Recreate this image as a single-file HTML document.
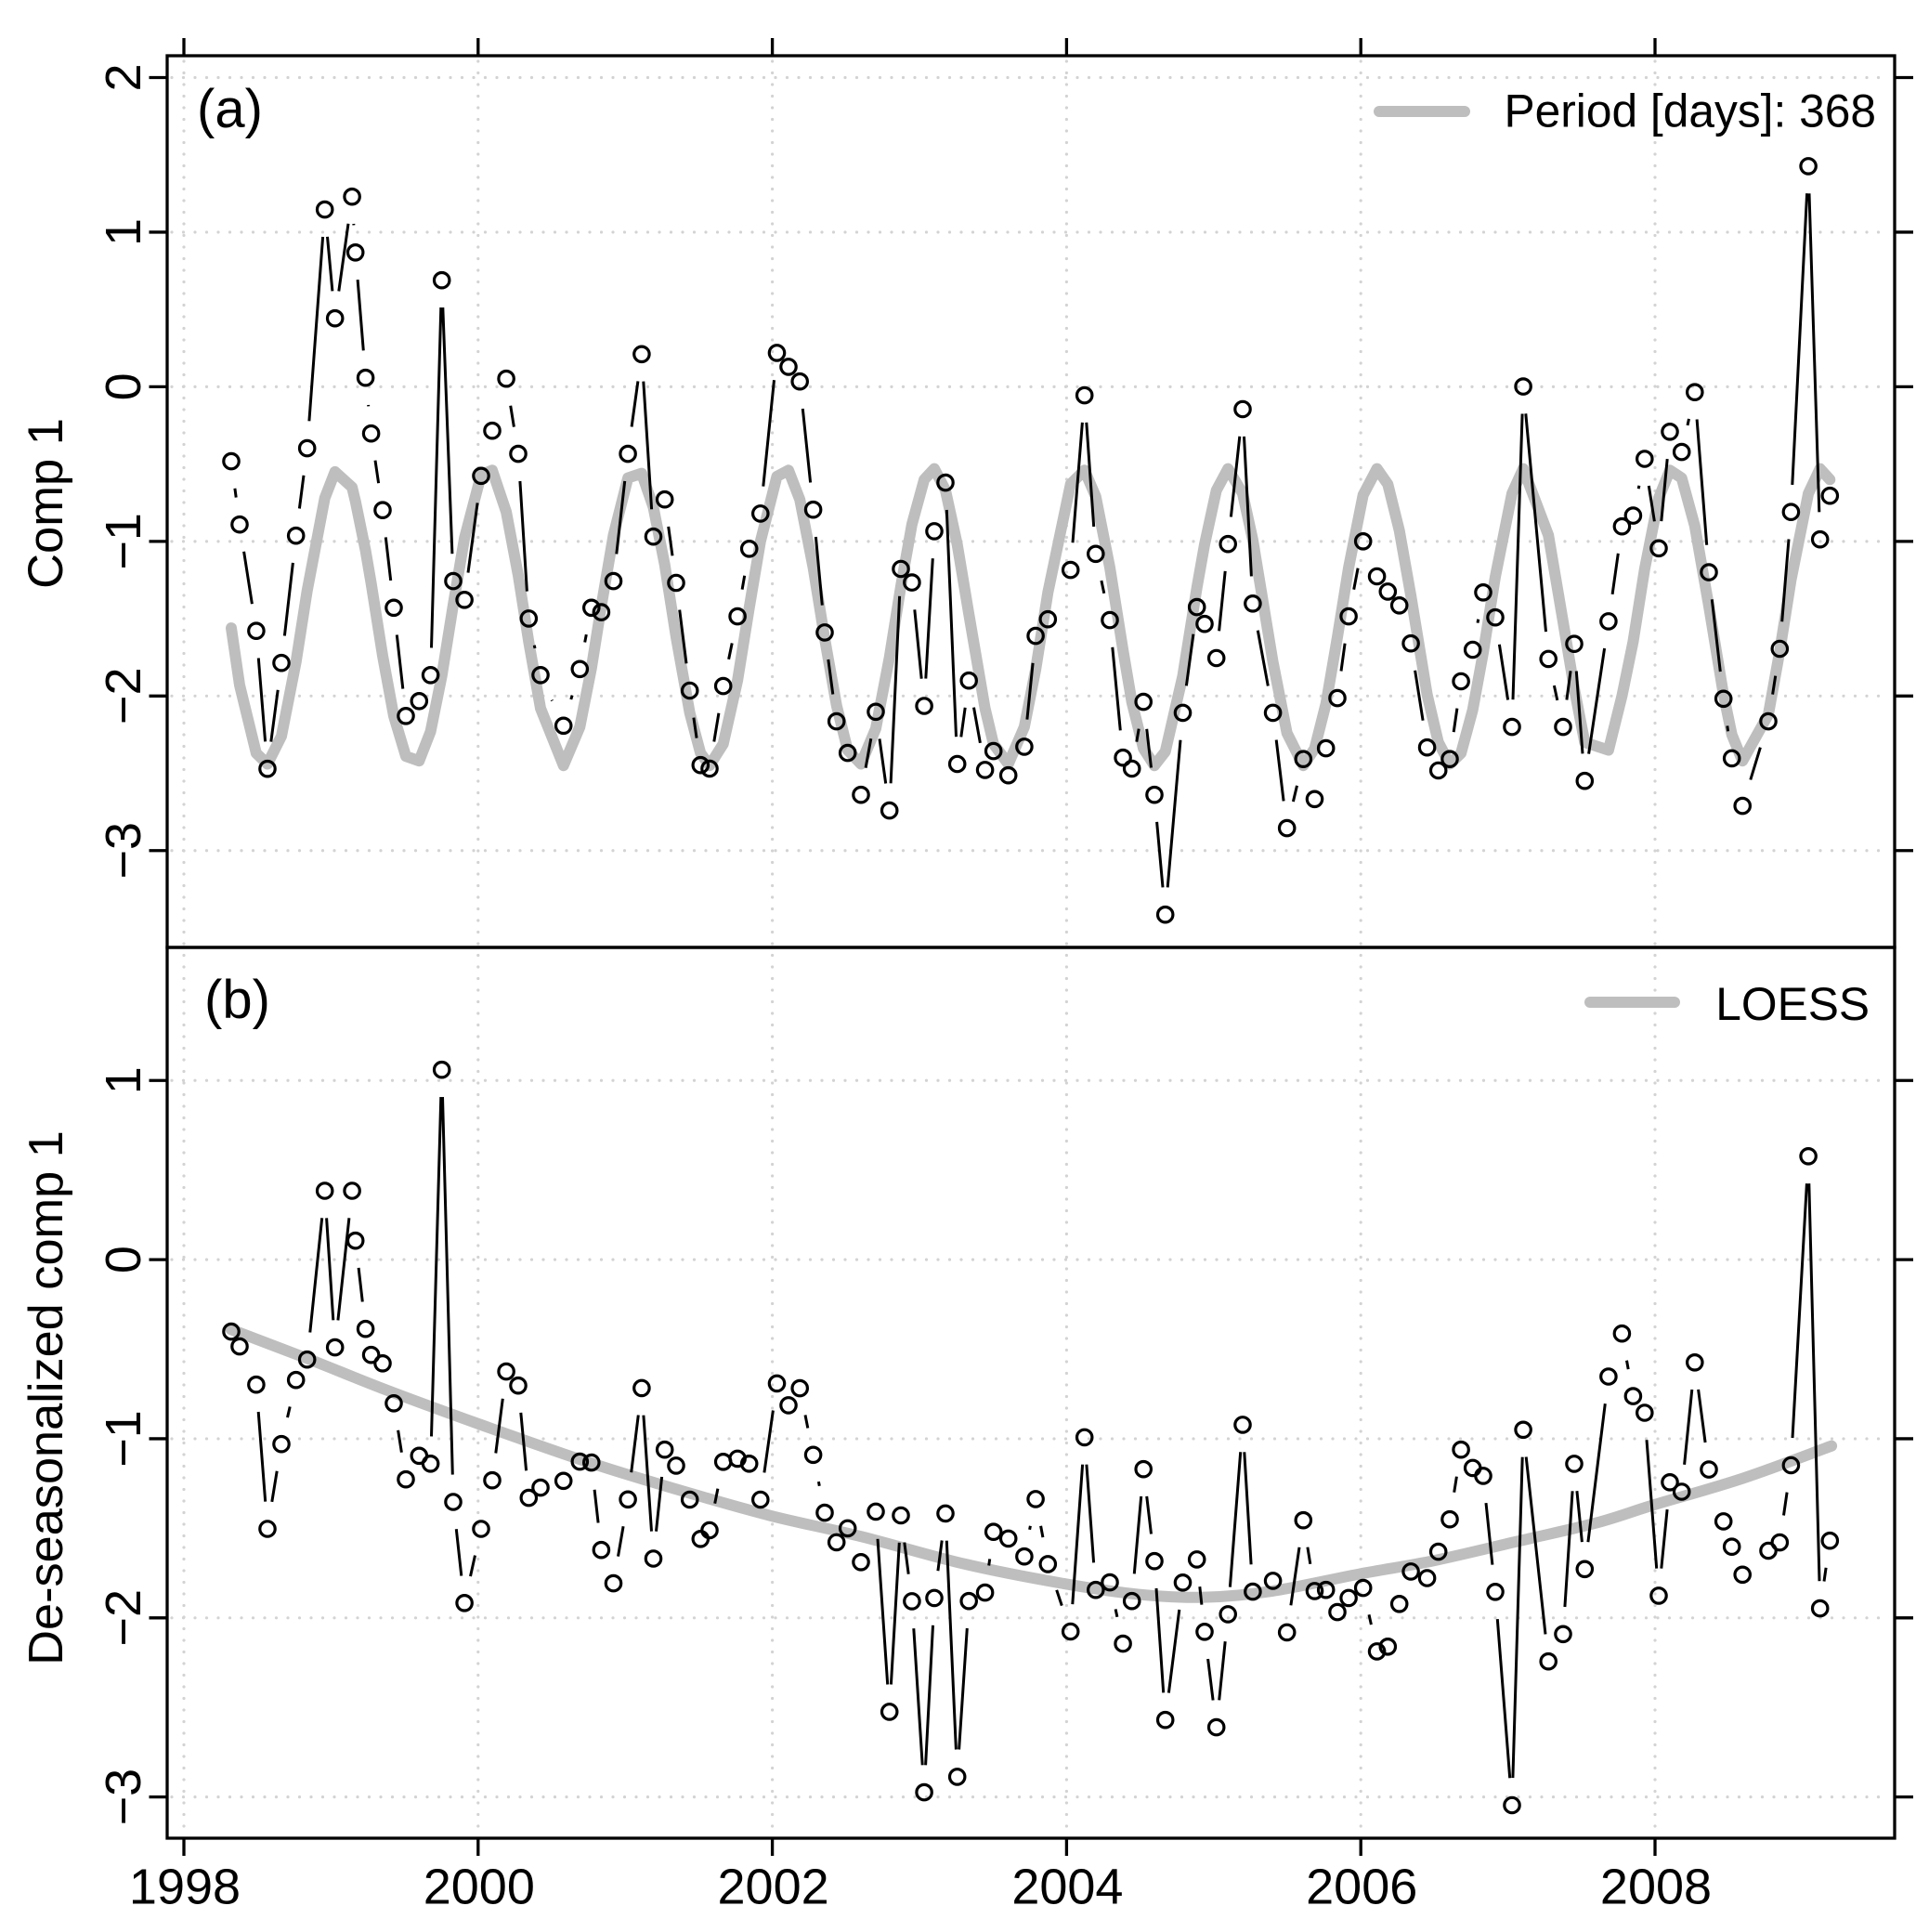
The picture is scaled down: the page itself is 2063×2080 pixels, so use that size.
<!DOCTYPE html>
<html lang="en">
<head>
<meta charset="utf-8">
<title>Comp 1 and de-seasonalized comp 1</title>
<style>
html,body{margin:0;padding:0;background:#fff;}
body{width:2063px;height:2080px;overflow:hidden;}
svg{display:block;font-family:"Liberation Sans",Arial,sans-serif;fill:#000;}
</style>
</head>
<body>
<svg id="chart" xmlns="http://www.w3.org/2000/svg" width="2063" height="2080" viewBox="0 0 2063 2080">
  <rect x="0" y="0" width="2063" height="2080" fill="#ffffff"/>
  <g id="grid"></g>
  <g id="seriesGrey"></g>
  <g id="seriesBlack"></g>
  <g id="axes"></g>
  <text x="212" y="137" font-size="58">(a)</text>
  <text x="220" y="1096" font-size="58">(b)</text>
  <text transform="translate(67,542) rotate(-90)" text-anchor="middle" font-size="52.5">Comp 1</text>
  <text transform="translate(67,1505) rotate(-90)" text-anchor="middle" font-size="52.3">De-seasonalized comp 1</text>
  <line x1="1485" y1="120" x2="1577" y2="120" stroke="#bebebe" stroke-width="12" stroke-linecap="round"/>
  <text x="2020" y="136.5" text-anchor="end" font-size="49.7">Period [days]: 368</text>
  <line x1="1712" y1="1079" x2="1803" y2="1079" stroke="#bebebe" stroke-width="12" stroke-linecap="round"/>
  <text x="2013" y="1098" text-anchor="end" font-size="49.7">LOESS</text>
</svg>
<script>
const years = [1998.322,1998.379,1998.492,1998.568,1998.663,1998.762,1998.838,1998.958,1999.027,1999.143,1999.166,1999.235,1999.273,1999.351,1999.427,1999.509,1999.599,1999.677,1999.753,1999.831,1999.907,2000.020,2000.096,2000.191,2000.273,2000.344,2000.424,2000.580,2000.691,2000.770,2000.837,2000.920,2001.018,2001.112,2001.191,2001.268,2001.346,2001.439,2001.512,2001.573,2001.666,2001.763,2001.843,2001.919,2002.031,2002.110,2002.187,2002.278,2002.356,2002.436,2002.512,2002.602,2002.703,2002.796,2002.874,2002.949,2003.032,2003.101,2003.177,2003.257,2003.336,2003.446,2003.503,2003.604,2003.713,2003.790,2003.873,2004.027,2004.122,2004.198,2004.294,2004.383,2004.444,2004.523,2004.597,2004.671,2004.790,2004.886,2004.938,2005.018,2005.097,2005.197,2005.266,2005.403,2005.498,2005.609,2005.686,2005.763,2005.841,2005.917,2006.016,2006.110,2006.184,2006.262,2006.340,2006.451,2006.527,2006.605,2006.681,2006.761,2006.832,2006.914,2007.028,2007.104,2007.275,2007.375,2007.451,2007.522,2007.684,2007.775,2007.851,2007.929,2008.025,2008.101,2008.181,2008.270,2008.366,2008.465,2008.522,2008.595,2008.770,2008.848,2008.924,2009.042,2009.122,2009.189];
const comp1 = [-0.482,-0.891,-1.579,-2.471,-1.786,-0.963,-0.398,1.146,0.443,1.23,0.869,0.058,-0.302,-0.798,-1.429,-2.129,-2.033,-1.865,0.689,-1.257,-1.378,-0.576,-0.284,0.052,-0.434,-1.499,-1.865,-2.192,-1.826,-1.429,-1.458,-1.257,-0.434,0.211,-0.969,-0.729,-1.268,-1.965,-2.447,-2.47,-1.936,-1.485,-1.048,-0.82,0.219,0.129,0.034,-0.795,-1.589,-2.164,-2.368,-2.639,-2.102,-2.741,-1.178,-1.266,-2.064,-0.934,-0.62,-2.44,-1.9,-2.478,-2.356,-2.513,-2.328,-1.611,-1.504,-1.185,-0.055,-1.081,-1.509,-2.399,-2.47,-2.038,-2.639,-3.414,-2.109,-1.425,-1.534,-1.755,-1.017,-0.145,-1.402,-2.109,-2.855,-2.408,-2.667,-2.338,-2.014,-1.485,-1.0,-1.226,-1.325,-1.414,-1.66,-2.333,-2.482,-2.408,-1.905,-1.701,-1.33,-1.492,-2.2,0.002,-1.76,-2.2,-1.663,-2.549,-1.517,-0.903,-0.833,-0.466,-1.045,-0.291,-0.422,-0.035,-1.2,-2.018,-2.403,-2.711,-2.164,-1.695,-0.81,1.427,-0.987,-0.705];
const periodFit = [-1.56,-1.93,-2.37,-2.44,-2.26,-1.78,-1.32,-0.72,-0.55,-0.65,-0.74,-1.06,-1.27,-1.74,-2.13,-2.39,-2.42,-2.23,-1.87,-1.41,-0.98,-0.57,-0.54,-0.81,-1.22,-1.65,-2.08,-2.45,-2.2,-1.82,-1.42,-0.96,-0.59,-0.56,-0.78,-1.15,-1.62,-2.11,-2.37,-2.45,-2.31,-1.9,-1.43,-1.0,-0.58,-0.54,-0.73,-1.17,-1.63,-2.06,-2.35,-2.44,-2.21,-1.75,-1.29,-0.89,-0.6,-0.53,-0.67,-1.02,-1.47,-2.08,-2.31,-2.44,-2.2,-1.83,-1.33,-0.63,-0.54,-0.71,-1.17,-1.7,-2.04,-2.34,-2.45,-2.36,-1.87,-1.3,-1.02,-0.67,-0.53,-0.69,-0.99,-1.78,-2.24,-2.45,-2.34,-2.05,-1.62,-1.17,-0.7,-0.53,-0.63,-0.93,-1.35,-1.99,-2.3,-2.44,-2.37,-2.09,-1.72,-1.23,-0.69,-0.53,-0.96,-1.52,-1.95,-2.3,-2.35,-2.0,-1.65,-1.18,-0.72,-0.54,-0.59,-0.9,-1.42,-1.99,-2.25,-2.42,-2.12,-1.71,-1.25,-0.69,-0.53,-0.6];
const deseasonalized = [-0.402,-0.485,-0.698,-1.503,-1.03,-0.672,-0.558,0.384,-0.49,0.384,0.106,-0.387,-0.532,-0.579,-0.802,-1.227,-1.095,-1.139,1.06,-1.353,-1.917,-1.503,-1.232,-0.625,-0.703,-1.33,-1.273,-1.235,-1.128,-1.133,-1.621,-1.807,-1.339,-0.717,-1.669,-1.061,-1.15,-1.34,-1.559,-1.511,-1.129,-1.111,-1.139,-1.34,-0.691,-0.813,-0.718,-1.09,-1.413,-1.578,-1.5,-1.689,-1.407,-2.524,-1.428,-1.907,-2.974,-1.889,-1.417,-2.887,-1.906,-1.859,-1.52,-1.557,-1.657,-1.337,-1.7,-2.076,-0.992,-1.844,-1.802,-2.144,-1.906,-1.17,-1.683,-2.57,-1.803,-1.674,-2.078,-2.611,-1.98,-0.922,-1.854,-1.793,-2.081,-1.455,-1.85,-1.844,-1.968,-1.889,-1.833,-2.187,-2.161,-1.922,-1.741,-1.778,-1.631,-1.45,-1.061,-1.163,-1.207,-1.855,-3.046,-0.95,-2.243,-2.091,-1.14,-1.728,-0.653,-0.413,-0.762,-0.855,-1.876,-1.243,-1.296,-0.574,-1.172,-1.461,-1.603,-1.759,-1.625,-1.579,-1.148,0.577,-1.947,-1.569];
const loessYears = [1998.32,1998.84,1999.38,2000.0,2000.73,2001.36,2001.99,2002.6,2003.31,2003.99,2004.5,2004.94,2005.4,2005.99,2006.5,2007.08,2007.6,2007.99,2008.6,2009.2];
const loessValues = [-0.39,-0.553,-0.729,-0.916,-1.126,-1.285,-1.43,-1.545,-1.70,-1.81,-1.87,-1.885,-1.85,-1.755,-1.68,-1.57,-1.47,-1.37,-1.22,-1.04];
const xTicks = [1998,2000,2002,2004,2006,2008];
const yTicksA = [2,1,0,-1,-2,-3];
const yTicksB = [1,0,-1,-2,-3];

const NS = 'http://www.w3.org/2000/svg';
const LEFT = 180, RIGHT = 2040, TOP = 60, MID = 1020, BOTTOM = 1979;
const GAP = 29.4;

function xScale(y){ return 198 + (y - 1998) * 158.4; }
function yScaleA(v){ return 416.4 - 166.45 * v; }
function yScaleB(v){ return 1356.1 - 192.85 * v; }

function make(tag, parent, attrs){
  const el = document.createElementNS(NS, tag);
  for (const k in attrs) el.setAttribute(k, attrs[k]);
  parent.appendChild(el);
  return el;
}
function fmt(v){ return v < 0 ? '\u2212' + Math.abs(v) : String(v); }

const gridG = document.getElementById('grid');
const greyG = document.getElementById('seriesGrey');
const blackG = document.getElementById('seriesBlack');
const axesG = document.getElementById('axes');

const gridStyle = {stroke:'#d3d3d3','stroke-width':3.2,'stroke-linecap':'round','stroke-dasharray':'0 12.5',fill:'none'};

function horizontalGrid(ticks, scale){
  ticks.forEach(function(t){
    const l = make('line', gridG, Object.assign({x1:LEFT+5,x2:RIGHT-5,y1:scale(t),y2:scale(t)}, gridStyle));
    
    
  });
}
horizontalGrid(yTicksA, yScaleA);
horizontalGrid(yTicksB, yScaleB);
xTicks.forEach(function(t){
  const l = make('line', gridG, Object.assign({x1:xScale(t),x2:xScale(t),y1:TOP+6,y2:BOTTOM-2}, gridStyle));
  
  
});

function polyline(xs, ys, yScale, name){
  const pts = xs.map(function(x, i){ return xScale(x).toFixed(1) + ',' + yScale(ys[i]).toFixed(1); }).join(' ');
  const p = make('polyline', greyG, {points:pts,fill:'none',stroke:'#bebebe','stroke-width':12,'stroke-linecap':'round','stroke-linejoin':'round'});
  
  
}
polyline(years, periodFit, yScaleA, 'period-fit-line');

function smoothLine(xs, ys, yScale, name){
  const P = xs.map(function(x, i){ return [xScale(x), yScale(ys[i])]; });
  let d = 'M' + P[0][0].toFixed(1) + ' ' + P[0][1].toFixed(1);
  for (let i = 0; i < P.length - 1; i++){
    const p0 = P[Math.max(i-1,0)], p1 = P[i], p2 = P[i+1], p3 = P[Math.min(i+2,P.length-1)];
    const c1x = p1[0] + (p2[0]-p0[0])/6, c1y = p1[1] + (p2[1]-p0[1])/6;
    const c2x = p2[0] - (p3[0]-p1[0])/6, c2y = p2[1] - (p3[1]-p1[1])/6;
    d += 'C' + c1x.toFixed(1) + ' ' + c1y.toFixed(1) + ' ' + c2x.toFixed(1) + ' ' + c2y.toFixed(1) + ' ' + p2[0].toFixed(1) + ' ' + p2[1].toFixed(1);
  }
  const p = make('path', greyG, {d:d,fill:'none',stroke:'#bebebe','stroke-width':12,'stroke-linecap':'round','stroke-linejoin':'round'});
  
  
}
smoothLine(loessYears, loessValues, yScaleB, 'loess-line');

function gappedSeries(values, yScale, panel){
  let d = '';
  for (let i = 0; i < years.length - 1; i++){
    const x0 = xScale(years[i]), y0 = yScale(values[i]);
    const x1 = xScale(years[i+1]), y1 = yScale(values[i+1]);
    const len = Math.hypot(x1 - x0, y1 - y0);
    if (len > 2 * GAP){
      const ux = (x1 - x0) / len, uy = (y1 - y0) / len;
      d += 'M' + (x0 + ux * GAP).toFixed(1) + ' ' + (y0 + uy * GAP).toFixed(1) + 'L' + (x1 - ux * GAP).toFixed(1) + ' ' + (y1 - uy * GAP).toFixed(1);
    }
  }
  const path = make('path', blackG, {d:d,fill:'none',stroke:'#000','stroke-width':3,'stroke-linecap':'butt'});
  
  
  for (let i = 0; i < years.length; i++){
    const c = make('circle', blackG, {cx:xScale(years[i]).toFixed(1),cy:yScale(values[i]).toFixed(1),r:8.2,fill:'none',stroke:'#000','stroke-width':3.2});
    
    
  }
}
gappedSeries(comp1, yScaleA, 'comp1');
gappedSeries(deseasonalized, yScaleB, 'deseasonalized');

const tickStyle = {stroke:'#000','stroke-width':3.3};
xTicks.forEach(function(t){
  const x = xScale(t);
  const top = make('line', axesG, Object.assign({x1:x,x2:x,y1:41,y2:TOP}, tickStyle));
  
  
  const bot = make('line', axesG, Object.assign({x1:x,x2:x,y1:BOTTOM,y2:1998}, tickStyle));
  
  
  const lab = make('text', axesG, {x:x+1,y:2049.5,'text-anchor':'middle','font-size':54});
  lab.textContent = String(t);
  
  
});
function yAxis(ticks, scale){
  ticks.forEach(function(t){
    const y = scale(t);
    const lt = make('line', axesG, Object.assign({x1:160.5,x2:LEFT,y1:y,y2:y}, tickStyle));
    
    
    const rt = make('line', axesG, Object.assign({x1:RIGHT,x2:2060,y1:y,y2:y}, tickStyle));
    
    
    const lab = make('text', axesG, {transform:'translate(151,' + y + ') rotate(-90)','text-anchor':'middle','font-size':54});
    lab.textContent = fmt(t);
    
    
  });
}
yAxis(yTicksA, yScaleA);
yAxis(yTicksB, yScaleB);

const frameA = make('rect', axesG, {x:LEFT,y:TOP,width:RIGHT-LEFT,height:MID-TOP,fill:'none',stroke:'#000','stroke-width':3.3});


const frameB = make('rect', axesG, {x:LEFT,y:MID,width:RIGHT-LEFT,height:BOTTOM-MID,fill:'none',stroke:'#000','stroke-width':3.3});


</script>
</body>
</html>
